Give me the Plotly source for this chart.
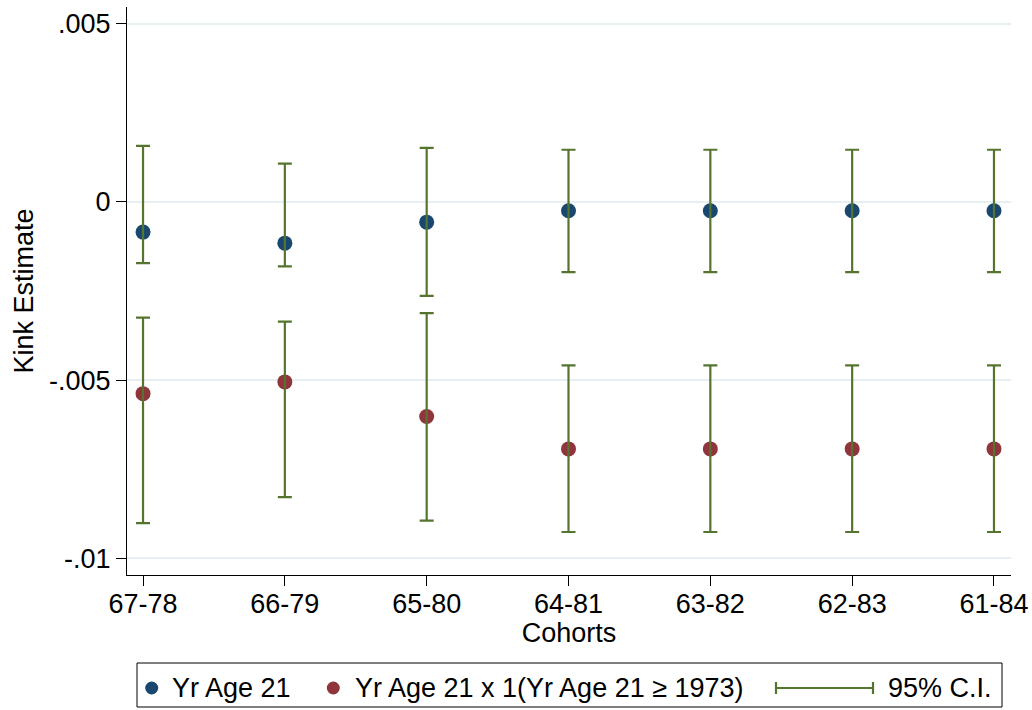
import plotly.graph_objects as go

# ---- data ----
cohorts = ["67-78", "66-79", "65-80", "64-81", "63-82", "62-83", "61-84"]
est_age21 = [-0.00085, -0.00116, -0.00057, -0.00025, -0.00025, -0.00025, -0.00025]
ci_age21_lo = [-0.00172, -0.00181, -0.00264, -0.00197, -0.00197, -0.00197, -0.00197]
ci_age21_hi = [0.00157, 0.00107, 0.00151, 0.00146, 0.00146, 0.00146, 0.00146]
est_inter = [-0.00538, -0.00505, -0.00602, -0.00693, -0.00693, -0.00693, -0.00693]
ci_inter_lo = [-0.00901, -0.00828, -0.00894, -0.00926, -0.00926, -0.00926, -0.00926]
ci_inter_hi = [-0.00325, -0.00336, -0.00312, -0.00459, -0.00459, -0.00459, -0.00459]
y_tickvals = [0.005, 0, -0.005, -0.01]
y_ticktext = [".005", "0", "-.005", "-.01"]
legend_labels = ["Yr Age 21", "Yr Age 21 x 1(Yr Age 21 \u2265 1973)", "95% C.I."]

BLUE = "#1a476f"
RED = "#90353b"
GREEN = "#55752f"
GRID = "#e8eff2"
FONT = "Liberation Sans, Arial, Helvetica, sans-serif"
FS = 27

xpos = list(range(len(cohorts)))

fig = go.Figure()
fig.add_trace(go.Scatter(x=xpos, y=est_age21, mode="markers",
                         marker=dict(color=BLUE, size=15, line=dict(width=0)),
                         showlegend=False, hoverinfo="skip"))
fig.add_trace(go.Scatter(x=xpos, y=est_inter, mode="markers",
                         marker=dict(color=RED, size=15, line=dict(width=0)),
                         showlegend=False, hoverinfo="skip"))

for est, lo, hi in [(est_age21, ci_age21_lo, ci_age21_hi), (est_inter, ci_inter_lo, ci_inter_hi)]:
    fig.add_trace(go.Scatter(
        x=xpos, y=est, mode="markers",
        marker=dict(size=1, opacity=0),
        error_y=dict(type="data", symmetric=False,
                     array=[h - e for h, e in zip(hi, est)],
                     arrayminus=[e - l for e, l in zip(est, lo)],
                     color=GREEN, thickness=2.2, width=7),
        showlegend=False, hoverinfo="skip"))

# plot area in pixels: x 127..1011, y 7..575
L, R, T, B = 127, 1011, 7, 575
W, H = R - L, B - T
def px_x(p):
    return (p - L) / W
def px_y(p):
    return (B - p) / H

shapes = []
annotations = []
# legend box
shapes.append(dict(type="rect", xref="paper", yref="paper",
                   x0=px_x(137), x1=px_x(1002), y0=px_y(707), y1=px_y(663),
                   line=dict(color="black", width=1), fillcolor="rgba(0,0,0,0)", layer="above"))
ly = px_y(688)
for cx, col in [(151.7, BLUE), (333.3, RED)]:
    shapes.append(dict(type="circle", xref="paper", yref="paper",
                       xsizemode="pixel", ysizemode="pixel",
                       xanchor=px_x(cx), yanchor=ly,
                       x0=-6.5, x1=6.5, y0=-6.5, y1=6.5,
                       fillcolor=col, line=dict(width=0)))
# CI legend symbol
shapes.append(dict(type="line", xref="paper", yref="paper",
                   x0=px_x(776), x1=px_x(873), y0=ly, y1=ly,
                   line=dict(color=GREEN, width=2.2)))
for cx in (776, 873):
    shapes.append(dict(type="line", xref="paper", yref="paper",
                       x0=px_x(cx), x1=px_x(cx), y0=px_y(682), y1=px_y(694),
                       line=dict(color=GREEN, width=2.2)))
for tx, txt in zip([170, 353, 886], legend_labels):
    annotations.append(dict(x=px_x(tx), y=ly, xref="paper", yref="paper",
                            text=txt, showarrow=False, xanchor="left", yanchor="middle",
                            font=dict(family=FONT, size=FS, color="black")))

fig.update_layout(
    width=1032, height=710,
    margin=dict(l=L, r=1032 - R, t=T, b=710 - B, autoexpand=False),
    paper_bgcolor="white", plot_bgcolor="white",
    font=dict(family=FONT, size=FS, color="black"),
    shapes=shapes, annotations=annotations,
    showlegend=False,
)
fig.update_xaxes(
    range=[-0.113, 6.12], tickmode="array", tickvals=xpos, ticktext=cohorts,
    showgrid=False, zeroline=False, showline=True, linecolor="black", linewidth=1.2,
    ticks="outside", ticklen=10, tickwidth=1.2, tickcolor="black",
    ticklabelstandoff=-6, automargin=False,
    tickfont=dict(family=FONT, size=FS, color="black"),
    title=dict(text="Cohorts", font=dict(family=FONT, size=FS, color="black"), standoff=0),
)
fig.update_yaxes(
    range=[-0.010466, 0.005463], tickmode="array", tickvals=y_tickvals, ticktext=y_ticktext,
    showgrid=True, gridcolor=GRID, gridwidth=1.5, zeroline=False,
    showline=True, linecolor="black", linewidth=1.2,
    ticks="outside", ticklen=10, tickwidth=1.2, tickcolor="black", automargin=False,
    tickfont=dict(family=FONT, size=FS, color="black"),
    title=dict(text="Kink Estimate", font=dict(family=FONT, size=FS, color="black"), standoff=7),
)

fig.write_html("out.html", config={"displayModeBar": False},
               post_script="document.body.style.margin='0px';document.body.style.overflow='hidden';")
